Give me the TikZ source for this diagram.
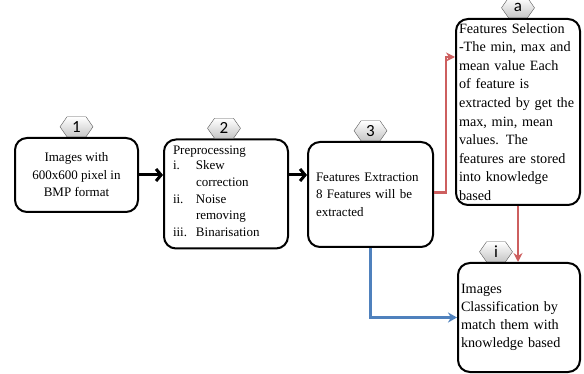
\documentclass[tikz,border=0pt]{standalone}
\usepackage{fontspec}
\setmainfont{Liberation Serif}
\newfontfamily\hexfont{Carlito}
\usetikzlibrary{shapes.symbols,arrows.meta}

\definecolor{linkred}{RGB}{205,95,95}
\definecolor{linkblue}{RGB}{79,129,189}

\tikzset{
  stage/.style={draw, line width=2pt, rounded corners=12pt, fill=white, inner sep=4pt,
    font=\fontsize{13}{17.5}\selectfont},
  tag/.style={signal, signal to=east and west, signal pointer angle=110, draw=gray!70!black,
    top color=white, bottom color=gray!45, minimum width=33pt, minimum height=20pt,
    inner sep=0pt, anchor=south, font=\hexfont\fontsize{17}{17}\selectfont},
  blackarrow/.style={line width=3pt, -{Straight Barb[length=5pt,width=12pt]}},
  redarrow/.style={draw=linkred, line width=2.4pt, -{Stealth[length=9pt,width=9pt]}},
  bluearrow/.style={draw=linkblue, line width=2.8pt, -{Stealth[length=9pt,width=10pt]}},
}

\begin{document}
\begin{tikzpicture}[x=1pt,y=-1pt]
  \useasboundingbox (0,0) rectangle (584,374);

  % Riquadri
  \node[stage, minimum width=123pt, minimum height=74pt, align=center] (img) at (76.5,175)
    {Images with\\600x600 pixel in\\BMP format};
  \node[stage, minimum width=124pt, minimum height=109pt, text width=106pt, align=left,
    font=\fontsize{13}{16.8}\selectfont] (pre) at (226,194)
    {Preprocessing\\[-1pt]
     \begin{tabular}{@{}p{23pt}@{}l@{}}
       i. & Skew\\ & correction\\ ii. & Noise\\ & removing\\ iii. & Binarisation
     \end{tabular}};
  \node[stage, minimum width=125pt, minimum height=105pt, text width=109pt, align=left] (ext) at (370.5,194.5)
    {Features Extraction\\8 Features will be\\extracted};
  \node[stage, minimum width=124pt, minimum height=186pt, text width=118pt, inner sep=2pt, align=left,
    font=\fontsize{14.2}{18.6}\selectfont] (sel) at (518,112)
    {Features Selection\\-The min, max and\\mean value Each\\of feature is\\extracted by get the\\max, min, mean\\values. The\\features are stored\\into knowledge\\based};
  \node[stage, minimum width=122pt, minimum height=109pt, text width=116pt, inner sep=2pt, align=left,
    font=\fontsize{14.2}{18}\selectfont] (cls) at (519,317.5)
    {Images\\Classification by\\match them with\\knowledge based};

  % Etichette
  \node[tag] (t1) at (img.north) {1};
  \node[tag] (t2) at ([xshift=-2pt]pre.north) {2};
  \node[tag] (t3) at (ext.north) {3};
  \node[tag] (ta) at (sel.north) {a};
  \node[tag] (ti) at ([xshift=-23pt]cls.north) {i};

  % Collegamenti
  \draw[blackarrow] (img.east) -- (img.east -| pre.west);
  \draw[blackarrow] (pre.east |- img.east) -- (ext.west |- img.east);
  \draw[redarrow] ([yshift=2pt]ext.east) -- ++(12,0) |- ([yshift=55pt]sel.west);
  \draw[redarrow] (sel.south) -- (sel.south |- cls.north);
  \draw[bluearrow] (ext.south) |- (cls.west);
\end{tikzpicture}
\end{document}
